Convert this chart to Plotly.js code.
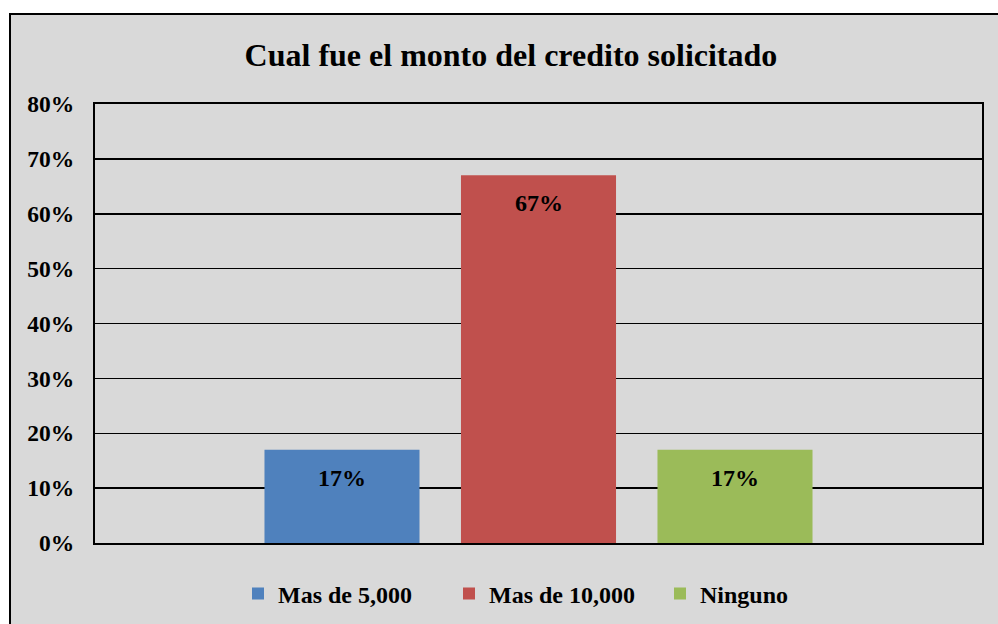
<!DOCTYPE html>
<html>
<head>
<meta charset="utf-8">
<script src="https://cdn.plot.ly/plotly-3.0.1.min.js"></script>
<style>
html,body{margin:0;padding:0;background:#ffffff;overflow:hidden;}
#frame{position:absolute;left:9px;top:13px;width:1010px;height:630px;background:#d9d9d9;border:2px solid #000;box-sizing:border-box;}
#chart{position:absolute;left:0;top:0;width:998px;height:624px;}
</style>
</head>
<body>
<div id="frame"></div>
<div id="chart"></div>
<script>
const titleText = 'Cual fue el monto del credito solicitado';
const categories = ['Mas de 5,000', 'Mas de 10,000', 'Ninguno'];
const values = [0.17, 0.67, 0.17];
const colors = ['#4f81bd', '#c0504d', '#9bbb59'];
const yTicks = [0, 0.1, 0.2, 0.3, 0.4, 0.5, 0.6, 0.7, 0.8];

const FONT = '"Liberation Serif", "Times New Roman", serif';

const traces = categories.map((c, i) => ({
  type: 'bar',
  name: c,
  x: [c],
  y: [values[i]],
  marker: {color: colors[i]},
  hoverinfo: 'skip'
}));

const annotations = categories.map((c, i) => ({
  x: c, y: values[i], xref: 'x', yref: 'y',
  text: Math.round(values[i] * 100) + '%',
  showarrow: false, yanchor: 'middle', yshift: -28,
  font: {family: FONT, size: 24, color: '#000', weight: 'bold'}
}));

const layout = {
  width: 998, height: 624,
  paper_bgcolor: 'rgba(0,0,0,0)',
  plot_bgcolor: 'rgba(0,0,0,0)',
  margin: {l: 95, r: 16, t: 104, b: 81},
  barmode: 'overlay',
  bargap: 0.211,
  title: {
    text: titleText, xref: 'container', yref: 'container',
    x: 0.512, xanchor: 'center', y: 1 - 55 / 624, yanchor: 'middle',
    font: {family: FONT, size: 32, color: '#000', weight: 'bold'}
  },
  xaxis: {
    type: 'category', range: [-1.257, 3.257],
    showticklabels: false, ticks: '', showgrid: false, zeroline: false,
    showline: true, linecolor: '#000', linewidth: 2, mirror: true
  },
  yaxis: {
    range: [0, 0.8], tickvals: yTicks, tickformat: '.0%',
    showgrid: true, gridcolor: '#000', gridwidth: 1.5,
    zeroline: false, ticks: '', ticklabelstandoff: 14,
    showline: true, linecolor: '#000', linewidth: 2, mirror: true,
    tickfont: {family: FONT, size: 23.5, color: '#000', weight: 'bold'}
  },
  showlegend: true,
  legend: {
    orientation: 'h', xref: 'container', yref: 'container',
    x: 238 / 998, xanchor: 'left', y: 30 / 624, yanchor: 'middle',
    bgcolor: 'rgba(0,0,0,0)',
    font: {family: FONT, size: 24, color: '#000', weight: 'bold'},
    itemwidth: 30, entrywidth: 166, entrywidthmode: 'pixels'
  },
  annotations: annotations
};

Plotly.newPlot('chart', traces, layout, {displayModeBar: false, staticPlot: true});
</script>
</body>
</html>
